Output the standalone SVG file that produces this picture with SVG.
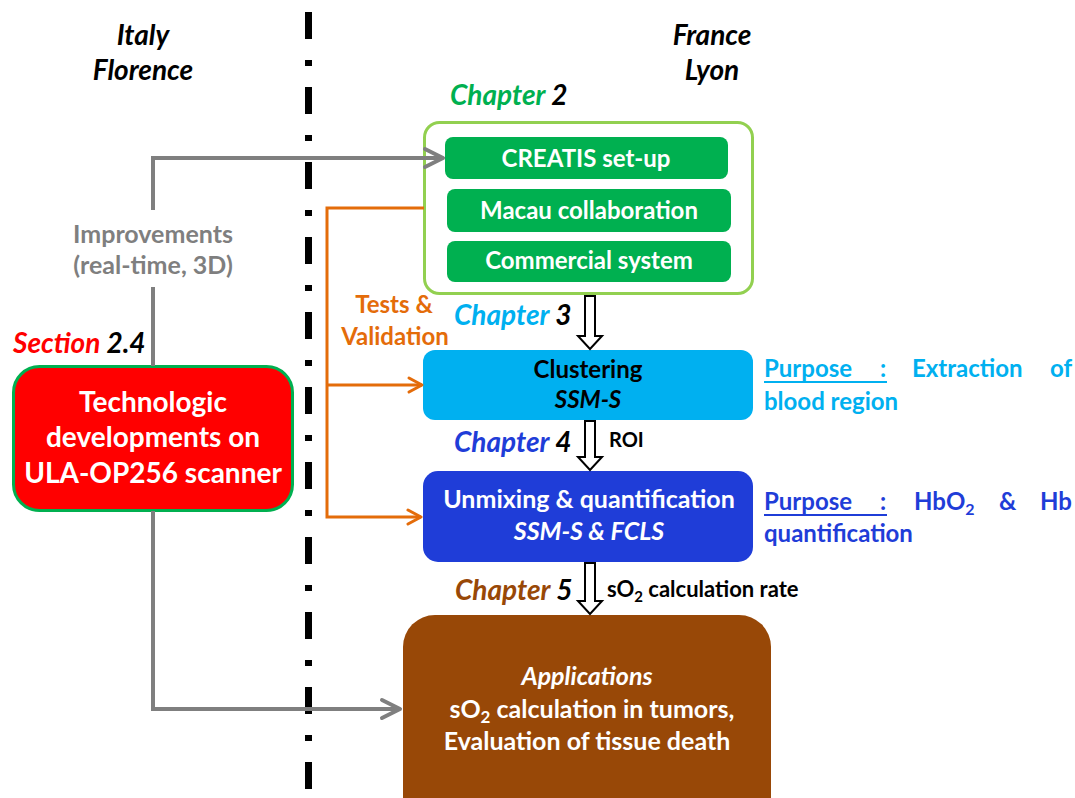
<svg xmlns="http://www.w3.org/2000/svg" width="1075" height="798" viewBox="0 0 1075 798">
<defs>
<style>
text{font-family:Lato,"Open Sans","Liberation Sans",sans-serif;font-weight:bold;}
.c{text-anchor:middle;}
.w{fill:#ffffff;}
.k{fill:#000000;}
.i{font-style:italic;}
.m{font-size:24px;}
.n{font-size:25px;}
.h{font-size:28px;font-style:italic;}
.gr{fill:#7f7f7f;}
.or{fill:#e46c0a;}
.cy{fill:#00b0f0;}
.bl{fill:#1f3dd8;}
.hol{fill:#ffffff;stroke:#000000;stroke-width:2;}
</style>
<marker id="ag" markerUnits="userSpaceOnUse" viewBox="0 0 22 22" markerWidth="22" markerHeight="22" refX="20" refY="11" orient="auto" overflow="visible">
<path d="M2,2 L20,11 L2,20" fill="none" stroke="#7f7f7f" stroke-width="4" stroke-linecap="round" stroke-linejoin="round"/>
</marker>
<marker id="ao" markerUnits="userSpaceOnUse" viewBox="0 0 16 16" markerWidth="16" markerHeight="16" refX="15" refY="8" orient="auto" overflow="visible">
<path d="M2,1 L15,8 L2,15" fill="none" stroke="#e46c0a" stroke-width="3" stroke-linecap="round" stroke-linejoin="round"/>
</marker>
</defs>
<rect width="1075" height="798" fill="#ffffff"/>

<g id="divider">
<line x1="308.5" y1="12" x2="308.5" y2="798" stroke="#000000" stroke-width="7" stroke-dasharray="27 21 6 21"/>
</g>

<g id="headers">
<text class="c h" x="143" y="45">Italy</text>
<text class="c h" x="143" y="80">Florence</text>
<text class="c h" x="712" y="45">France</text>
<text class="c h" x="712" y="80">Lyon</text>
</g>

<g id="chapter2">
<text class="h" x="450" y="105"><tspan fill="#00b050">Chapter </tspan><tspan fill="#000000">2</tspan></text>
<rect x="424.5" y="122.5" width="328" height="171" rx="15" fill="#ffffff" stroke="#92d050" stroke-width="3"/>
</g>
<g id="creatis">
<rect x="445" y="137" width="283" height="42" rx="8" fill="#00b050"/>
<text class="c w m" x="586" y="167">CREATIS set-up</text>
</g>
<g id="macau">
<rect x="447" y="189" width="284" height="43" rx="8" fill="#00b050"/>
<text class="c w m" x="589" y="219">Macau collaboration</text>
</g>
<g id="commercial">
<rect x="447" y="241" width="284" height="41" rx="8" fill="#00b050"/>
<text class="c w m" x="589" y="269">Commercial system</text>
</g>

<g id="section">
<text class="h" x="13" y="353"><tspan fill="#ff0000">Section </tspan><tspan fill="#000000">2.4</tspan></text>
</g>
<g id="technologic">
<rect x="13.5" y="366.5" width="279" height="144" rx="26" fill="#ff0000" stroke="#00b050" stroke-width="3"/>
<text class="c w" x="153" y="412" style="font-size:28px">Technologic</text>
<text class="c w" x="153" y="447" style="font-size:28px">developments on</text>
<text class="c w" x="153" y="483" style="font-size:28px">ULA-OP256 scanner</text>
</g>

<g id="clustering">
<text class="h" x="454" y="325"><tspan fill="#00b0f0">Chapter </tspan><tspan fill="#000000">3</tspan></text>
<rect x="423" y="350" width="330" height="70" rx="12" fill="#00b0f0"/>
<text class="c k m" x="588" y="378">Clustering</text>
<text class="c k m i" x="588" y="408">SSM-S</text>
</g>
<g id="purpose1">
<text class="cy m" x="764" y="377">Purpose</text>
<text class="cy m" x="880" y="377">:</text>
<line x1="764" y1="382" x2="887" y2="382" stroke="#00b0f0" stroke-width="2"/>
<text class="cy m" x="912" y="377">Extraction</text>
<text class="cy m" x="1072" y="377" text-anchor="end">of</text>
<text class="cy m" x="764" y="410">blood region</text>
</g>

<g id="unmixing">
<text class="h" x="454" y="452"><tspan fill="#1f3dd8">Chapter </tspan><tspan fill="#000000">4</tspan></text>
<rect x="423" y="471" width="330" height="91" rx="15" fill="#1f3dd8"/>
<text class="c w n" x="589" y="508">Unmixing &amp; quantification</text>
<text class="c w n i" x="589" y="540">SSM-S &amp; FCLS</text>
</g>
<g id="purpose2">
<text class="bl m" x="764" y="510">Purpose</text>
<text class="bl m" x="880" y="510">:</text>
<line x1="764" y1="515" x2="887" y2="515" stroke="#1f3dd8" stroke-width="2"/>
<text class="bl m" x="914" y="510">HbO<tspan style="font-size:16px" dy="5">2</tspan></text>
<text class="bl m" x="999" y="510">&amp;</text>
<text class="bl m" x="1072" y="510" text-anchor="end">Hb</text>
<text class="bl m" x="764" y="542">quantification</text>
</g>

<g id="applications">
<text class="h" x="455" y="600"><tspan fill="#984807">Chapter </tspan><tspan fill="#000000">5</tspan></text>
<rect x="403" y="615" width="368" height="220" rx="32" fill="#984807"/>
<text class="c w n i" x="587" y="685">Applications</text>
<text class="c w n" x="592" y="718">sO<tspan style="font-size:17px" dy="5">2</tspan><tspan dy="-5"> calculation in tumors,</tspan></text>
<text class="c w n" x="587" y="750">Evaluation of tissue death</text>
</g>

<g id="connectors" fill="none">
<path d="M153,210 V158 H443" stroke="#7f7f7f" stroke-width="4" marker-end="url(#ag)"/>
<path d="M153,287 V366" stroke="#7f7f7f" stroke-width="4"/>
<path d="M153,511 V709 H400" stroke="#7f7f7f" stroke-width="4" marker-end="url(#ag)"/>
<path d="M424,208 H327 V517 H421" stroke="#e46c0a" stroke-width="3" marker-end="url(#ao)"/>
<path d="M327,385 H422" stroke="#e46c0a" stroke-width="3" marker-end="url(#ao)"/>
<path class="hol" d="M585,296 L595,296 L595,336 L602,336 L590,349 L578,336 L585,336 Z"/>
<path class="hol" d="M585,421 L595,421 L595,457 L602,457 L590,470 L578,457 L585,457 Z"/>
<path class="hol" d="M585,563 L595,563 L595,601 L602,601 L590,614 L578,601 L585,601 Z"/>
</g>

<g id="connector-labels">
<text class="c gr n" x="153" y="243">Improvements</text>
<text class="c gr n" x="153" y="274">(real-time, 3D)</text>
<text class="c or m" x="394" y="313">Tests &amp;</text>
<text class="c or m" x="395" y="345">Validation</text>
<text class="k" x="609" y="447" style="font-size:20px">ROI</text>
<text class="k" x="607" y="597" style="font-size:22px">sO<tspan style="font-size:15px" dy="5">2</tspan><tspan dy="-5"> calculation rate</tspan></text>
</g>
</svg>
